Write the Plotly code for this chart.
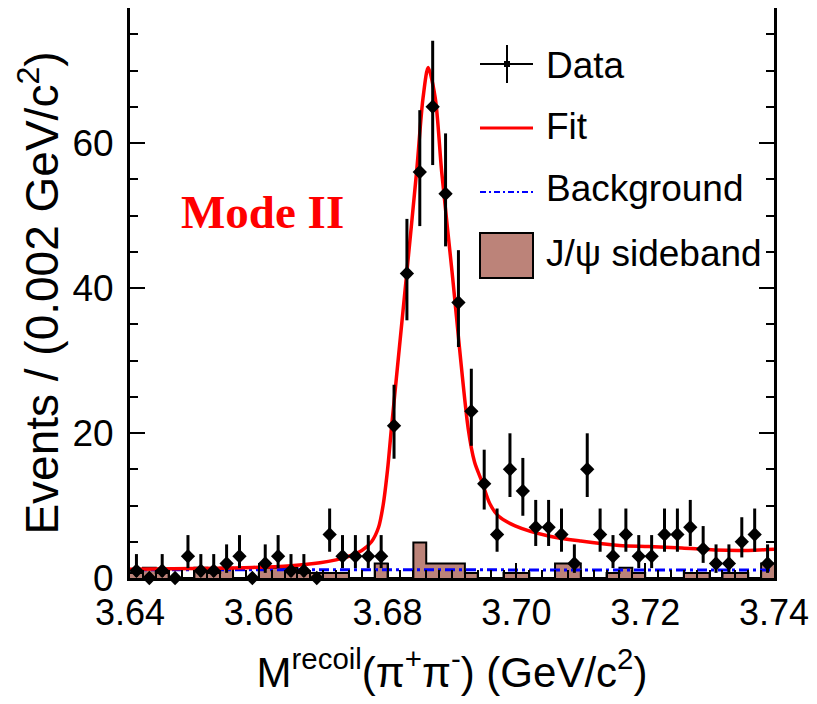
import math
import plotly.graph_objects as go

# ---------------- data ----------------
bin_lo = 3.64
bin_w = 0.002
n_bins = 50

counts = [1, 0, 1, 0, 3, 1, 1, 2, 3, 0,
          2, 3, 1, 1, 0, 6, 3, 3, 3, 3,
          21, 42, 56, 65, 53, 38, 23, 13, 6, 15,
          12, 7, 7, 6, 2, 15, 6, 3, 6, 3,
          3, 6, 6, 7, 4, 2, 2, 5, 6, 2]

sideband = [0.7, 1.4, 0.7, 0.0, 0.0, 1.4, 0.7, 1.4, 0.0, 0.0,
            1.4, 1.4, 1.4, 0.7, 0.7, 0.7, 0.7, 0.0, 0.0, 2.0,
            0.0, 0.0, 4.9, 2.0, 2.0, 2.0, 0.7, 0.0, 0.0, 0.7,
            0.7, 0.0, 0.0, 2.0, 2.0, 0.0, 0.0, 0.7, 1.4, 0.7,
            0.0, 0.0, 0.0, 0.7, 0.7, 0.0, 0.7, 0.7, 0.0, 2.0]

fit_x = [3.640, 3.650, 3.659, 3.665, 3.6695, 3.672, 3.674, 3.676, 3.6775,
         3.6786, 3.6793, 3.680, 3.6806, 3.683, 3.6845, 3.6855, 3.6863,
         3.6874, 3.6884, 3.690, 3.6925, 3.6935, 3.6946, 3.6959, 3.6972,
         3.6998, 3.705, 3.710, 3.716, 3.7205, 3.7257, 3.7308, 3.736, 3.740]
fit_y = [1.2, 1.3, 1.45, 1.7, 2.1, 2.5, 3.0, 3.8, 5.0,
         7.0, 10.0, 15.0, 20.7, 42.3, 56.0, 66.2, 70.4,
         66.2, 56.0, 42.3, 20.7, 16.0, 13.4, 10.2, 8.55,
         7.2, 5.8, 5.1, 4.5, 4.35, 4.15, 3.85, 3.8, 3.95]

bkg_x = [3.64, 3.74]
bkg_y = [1.15, 1.1]

x_tick_vals = [3.64, 3.66, 3.68, 3.70, 3.72, 3.74]
x_tick_text = ["3.64", "3.66", "3.68", "3.70", "3.72", "3.74"]
y_tick_vals = [0, 20, 40, 60]
y_tick_text = ["0", "20", "40", "60"]

legend_labels = ["Data", "Fit", "Background", "J/\u03c8 sideband"]

# ---------------- derived ----------------
edges = [round(bin_lo + bin_w * i, 4) for i in range(n_bins + 1)]
centers = [round(bin_lo + bin_w * (i + 0.5), 4) for i in range(n_bins)]


def pois_cdf(n, mu):
    s, term = 0.0, math.exp(-mu)
    for k in range(n + 1):
        if k > 0:
            term *= mu / k
        s += term
    return s


def solve(f, lo, hi):
    for _ in range(200):
        mid = 0.5 * (lo + hi)
        if f(mid) > 0:
            lo = mid
        else:
            hi = mid
    return 0.5 * (lo + hi)


alpha = 0.158655
err_hi, err_lo = [], []
for n in counts:
    if n == 0:
        err_hi.append(0.0)
        err_lo.append(0.0)
        continue
    up = solve(lambda m: pois_cdf(n, m) - alpha, n, n + 10 * math.sqrt(n) + 10)
    lo = solve(lambda m: alpha - (1 - pois_cdf(n - 1, m)), 0.0, n)
    err_hi.append(up - n)
    err_lo.append(n - lo)

# ---------------- figure ----------------
# The page body has an 8px default margin: every page position is offset
# by 8px, so the figure is made smaller than the 817x704 window.
OFF = 8
W, H = 817 - OFF, 704 - 2 * OFF
ML, MR, MT, MB = 122, 43, 0, 118
PW, PH = W - ML - MR, H - MT - MB

FONT = "Liberation Sans"
SB_COLOR = "#BC8379"

fig = go.Figure()

fig.add_trace(go.Scatter(
    x=edges, y=sideband + [sideband[-1]],
    mode="lines", line=dict(shape="hv", color="black", width=2),
    fill="tozeroy", fillcolor=SB_COLOR, showlegend=False, hoverinfo="skip"))

fig.add_trace(go.Scatter(
    x=bkg_x, y=bkg_y, mode="lines",
    line=dict(color="#0000FF", width=3, dash="10px,4px,3px,4px"),
    showlegend=False))

fig.add_trace(go.Scatter(
    x=fit_x, y=fit_y, mode="lines",
    line=dict(color="#FF0000", width=3.5, shape="spline", smoothing=0.8),
    showlegend=False))

fig.add_trace(go.Scatter(
    x=centers, y=counts, mode="markers",
    marker=dict(symbol="diamond", size=11, color="black"),
    error_y=dict(type="data", symmetric=False, array=err_hi,
                 arrayminus=err_lo, thickness=3, width=0, color="black"),
    cliponaxis=False, showlegend=False))


def px(xpage):
    return (xpage - OFF - ML) / PW


def py(ypage):
    return (MT + PH - (ypage - OFF)) / PH


shapes = []
# legend: Data
shapes.append(dict(type="line", xref="paper", yref="paper",
                   x0=px(480), x1=px(533), y0=py(64), y1=py(64),
                   line=dict(color="black", width=2)))
shapes.append(dict(type="line", xref="paper", yref="paper",
                   x0=px(507), x1=px(507), y0=py(45), y1=py(83),
                   line=dict(color="black", width=2)))
shapes.append(dict(type="rect", xref="paper", yref="paper",
                   x0=px(504), x1=px(510), y0=py(61), y1=py(67),
                   fillcolor="black", line=dict(width=0)))
# Fit
shapes.append(dict(type="line", xref="paper", yref="paper",
                   x0=px(480), x1=px(533), y0=py(128), y1=py(128),
                   line=dict(color="#FF0000", width=3)))
# Background
shapes.append(dict(type="line", xref="paper", yref="paper",
                   x0=px(480), x1=px(533), y0=py(192), y1=py(192),
                   line=dict(color="#0000FF", width=2, dash="6px,3px,2px,3px")))
# sideband box
shapes.append(dict(type="rect", xref="paper", yref="paper",
                   x0=px(480), x1=px(533), y0=py(278), y1=py(233),
                   fillcolor=SB_COLOR, line=dict(color="black", width=2)))

annotations = []
for lab, yc in zip(legend_labels, [66, 127, 188, 253]):
    annotations.append(dict(text=lab, xref="paper", yref="paper",
                            x=px(544), y=py(yc), xanchor="left",
                            yanchor="middle", showarrow=False,
                            font=dict(family=FONT, size=37, color="black")))
annotations.append(dict(text="<b>Mode II</b>", xref="paper", yref="paper",
                        x=px(262), y=py(212), xanchor="center",
                        yanchor="middle", showarrow=False,
                        font=dict(family="Liberation Serif", size=47,
                                  color="#FF0000")))

fig.update_layout(
    width=W, height=H, autosize=False,
    margin=dict(l=ML, r=MR, t=MT, b=MB, pad=0),
    plot_bgcolor="white", paper_bgcolor="white",
    shapes=shapes, annotations=annotations,
    font=dict(family=FONT, color="black"),
    xaxis=dict(
        range=[3.64, 3.74], tickvals=x_tick_vals, ticktext=x_tick_text,
        ticks="inside", ticklen=15, tickwidth=2, tickcolor="black",
        minor=dict(dtick=0.002, tick0=3.64, ticks="inside", ticklen=8,
                   tickwidth=2, tickcolor="black"),
        showline=True, linewidth=3, linecolor="black", mirror=False,
        showgrid=False, zeroline=False,
        tickfont=dict(family=FONT, size=36),
        ticklabeloverflow="allow",
        ticklabelstandoff=1,
        title=dict(text="M<sup>recoil</sup>(\u03c0<sup>+</sup>\u03c0<sup>-</sup>) (GeV/c<sup>2</sup>)",
                   font=dict(family=FONT, size=42), standoff=31),
    ),
    yaxis=dict(
        range=[0, PH / 7.25], tickvals=y_tick_vals, ticktext=y_tick_text,
        ticks="inside", ticklen=15, tickwidth=2, tickcolor="black",
        minor=dict(dtick=5, tick0=0, ticks="inside", ticklen=8,
                   tickwidth=2, tickcolor="black"),
        showline=True, linewidth=3, linecolor="black", mirror="ticks",
        showgrid=False, zeroline=False,
        tickfont=dict(family=FONT, size=37),
        ticklabelstandoff=6,
        title=dict(text="Events / (0.002 GeV/c<sup>2</sup>)",
                   font=dict(family=FONT, size=46), standoff=0),
    ),
)

fig.write_html("out.html")
